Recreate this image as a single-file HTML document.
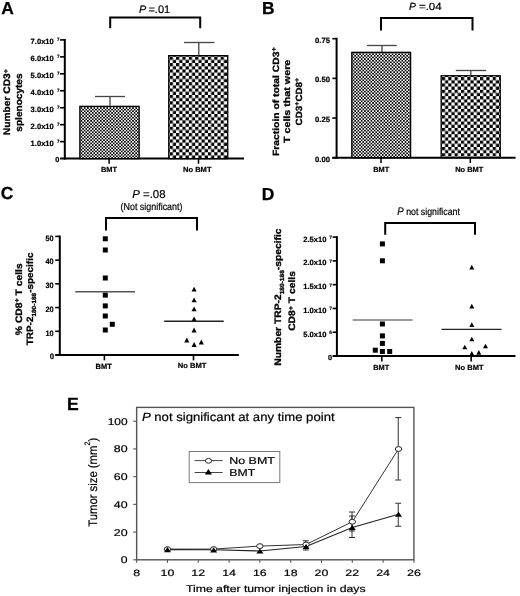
<!DOCTYPE html>
<html><head><meta charset="utf-8"><style>
html,body{margin:0;padding:0;background:#fff;width:520px;height:596px;overflow:hidden;font-family:"Liberation Sans", sans-serif;}
</style></head><body>
<svg width="520" height="596" viewBox="0 0 520 596" text-rendering="geometricPrecision" style="display:block;font-family:&quot;Liberation Sans&quot;, sans-serif;filter:grayscale(1)">
<defs>
<pattern id="fine" patternUnits="userSpaceOnUse" x="80.66" y="107.2" width="3.22" height="3.22">
<rect width="3.22" height="3.22" fill="#fff"/><rect width="1.61" height="1.61" fill="#000"/><rect x="1.61" y="1.61" width="1.61" height="1.61" fill="#000"/>
</pattern>
<pattern id="fineB" patternUnits="userSpaceOnUse" x="352.7" y="53.4" width="3.25" height="3.25">
<rect width="3.25" height="3.25" fill="#fff"/><rect width="1.625" height="1.625" fill="#000"/><rect x="1.625" y="1.625" width="1.625" height="1.625" fill="#000"/>
</pattern>
<pattern id="coarse" patternUnits="userSpaceOnUse" x="169.7" y="56.7" width="6.37" height="6.37">
<rect width="6.37" height="6.37" fill="#fff"/><rect width="3.185" height="3.185" fill="#000"/><rect x="3.185" y="3.185" width="3.185" height="3.185" fill="#000"/>
</pattern>
<pattern id="coarseB" patternUnits="userSpaceOnUse" x="441.9" y="77.1" width="6.35" height="6.35">
<rect width="6.35" height="6.35" fill="#fff"/><rect width="3.175" height="3.175" fill="#000"/><rect x="3.175" y="3.175" width="3.175" height="3.175" fill="#000"/>
</pattern>
</defs>
<rect width="520" height="596" fill="#fff"/>
<text x="1.30" y="13.70" font-size="17.4" font-weight="bold" font-style="normal" text-anchor="start" fill="#000" stroke="#000" stroke-width="0.3">A</text>
<text x="138.90" y="13.20" font-size="10.8" font-weight="normal" font-style="italic" text-anchor="start" fill="#000" stroke="#000" stroke-width="0.2">P</text>
<text x="148.40" y="13.20" font-size="10.8" font-weight="normal" font-style="normal" text-anchor="start" fill="#000" textLength="21.80" lengthAdjust="spacingAndGlyphs" stroke="#000" stroke-width="0.2">=.01</text>
<path d="M110.2,28.3 V17.4 H200.2 V28.3" stroke="#000" stroke-width="2" fill="none"/>
<line x1="64.80" y1="39.00" x2="64.80" y2="159.60" stroke="#000" stroke-width="2"/>
<line x1="60.00" y1="158.60" x2="244.00" y2="158.60" stroke="#000" stroke-width="2"/>
<line x1="60.00" y1="141.64" x2="64.80" y2="141.64" stroke="#000" stroke-width="1.6"/>
<text x="30.60" y="145.74" font-size="7.6" font-weight="bold" font-style="normal" text-anchor="start" fill="#000" textLength="23.20" lengthAdjust="spacingAndGlyphs" stroke="#000" stroke-width="0.2">1.0x10</text>
<text x="56.90" y="143.04" font-size="4.6" font-weight="bold" font-style="normal" text-anchor="start" fill="#000" stroke="#000" stroke-width="0.15">7</text>
<line x1="60.00" y1="124.69" x2="64.80" y2="124.69" stroke="#000" stroke-width="1.6"/>
<text x="30.60" y="128.79" font-size="7.6" font-weight="bold" font-style="normal" text-anchor="start" fill="#000" textLength="23.20" lengthAdjust="spacingAndGlyphs" stroke="#000" stroke-width="0.2">2.0x10</text>
<text x="56.90" y="126.09" font-size="4.6" font-weight="bold" font-style="normal" text-anchor="start" fill="#000" stroke="#000" stroke-width="0.15">7</text>
<line x1="60.00" y1="107.73" x2="64.80" y2="107.73" stroke="#000" stroke-width="1.6"/>
<text x="30.60" y="111.83" font-size="7.6" font-weight="bold" font-style="normal" text-anchor="start" fill="#000" textLength="23.20" lengthAdjust="spacingAndGlyphs" stroke="#000" stroke-width="0.2">3.0x10</text>
<text x="56.90" y="109.13" font-size="4.6" font-weight="bold" font-style="normal" text-anchor="start" fill="#000" stroke="#000" stroke-width="0.15">7</text>
<line x1="60.00" y1="90.77" x2="64.80" y2="90.77" stroke="#000" stroke-width="1.6"/>
<text x="30.60" y="94.87" font-size="7.6" font-weight="bold" font-style="normal" text-anchor="start" fill="#000" textLength="23.20" lengthAdjust="spacingAndGlyphs" stroke="#000" stroke-width="0.2">4.0x10</text>
<text x="56.90" y="92.17" font-size="4.6" font-weight="bold" font-style="normal" text-anchor="start" fill="#000" stroke="#000" stroke-width="0.15">7</text>
<line x1="60.00" y1="73.81" x2="64.80" y2="73.81" stroke="#000" stroke-width="1.6"/>
<text x="30.60" y="77.91" font-size="7.6" font-weight="bold" font-style="normal" text-anchor="start" fill="#000" textLength="23.20" lengthAdjust="spacingAndGlyphs" stroke="#000" stroke-width="0.2">5.0x10</text>
<text x="56.90" y="75.21" font-size="4.6" font-weight="bold" font-style="normal" text-anchor="start" fill="#000" stroke="#000" stroke-width="0.15">7</text>
<line x1="60.00" y1="56.86" x2="64.80" y2="56.86" stroke="#000" stroke-width="1.6"/>
<text x="30.60" y="60.96" font-size="7.6" font-weight="bold" font-style="normal" text-anchor="start" fill="#000" textLength="23.20" lengthAdjust="spacingAndGlyphs" stroke="#000" stroke-width="0.2">6.0x10</text>
<text x="56.90" y="58.26" font-size="4.6" font-weight="bold" font-style="normal" text-anchor="start" fill="#000" stroke="#000" stroke-width="0.15">7</text>
<line x1="60.00" y1="39.90" x2="64.80" y2="39.90" stroke="#000" stroke-width="1.6"/>
<text x="30.60" y="44.00" font-size="7.6" font-weight="bold" font-style="normal" text-anchor="start" fill="#000" textLength="23.20" lengthAdjust="spacingAndGlyphs" stroke="#000" stroke-width="0.2">7.0x10</text>
<text x="56.90" y="41.30" font-size="4.6" font-weight="bold" font-style="normal" text-anchor="start" fill="#000" stroke="#000" stroke-width="0.15">7</text>
<text x="55.20" y="162.20" font-size="7.3" font-weight="bold" font-style="normal" text-anchor="start" fill="#000" stroke="#000" stroke-width="0.2">0</text>
<rect x="79.85" y="106.35" width="59.3" height="52.25" fill="url(#fine)" stroke="#000" stroke-width="1.3"/>
<rect x="168.75" y="55.65" width="59.0" height="102.95" fill="url(#coarse)" stroke="#000" stroke-width="1.3"/>
<line x1="110.00" y1="96.50" x2="110.00" y2="105.80" stroke="#444" stroke-width="1.3"/>
<line x1="95.00" y1="96.50" x2="125.00" y2="96.50" stroke="#444" stroke-width="1.3"/>
<line x1="198.80" y1="42.50" x2="198.80" y2="55.00" stroke="#444" stroke-width="1.3"/>
<line x1="184.00" y1="42.50" x2="214.40" y2="42.50" stroke="#444" stroke-width="1.3"/>
<line x1="109.10" y1="158.60" x2="109.10" y2="163.80" stroke="#000" stroke-width="1.5"/>
<line x1="198.50" y1="158.60" x2="198.50" y2="163.80" stroke="#000" stroke-width="1.5"/>
<text x="101.00" y="172.30" font-size="7.4" font-weight="bold" font-style="normal" text-anchor="start" fill="#000" textLength="16.00" lengthAdjust="spacingAndGlyphs" stroke="#000" stroke-width="0.2">BMT</text>
<text x="183.00" y="172.10" font-size="7.4" font-weight="bold" font-style="normal" text-anchor="start" fill="#000" textLength="28.50" lengthAdjust="spacingAndGlyphs" stroke="#000" stroke-width="0.2">No BMT</text>
<g transform="translate(10.20,102.15) scale(1.0,1) rotate(-90)"><text x="-33.00" y="0" font-size="9.5" font-weight="bold" fill="#000" textLength="66.00" lengthAdjust="spacingAndGlyphs" stroke="#000" stroke-width="0.3">Number CD3<tspan font-size="6.5" dy="-2.5">+</tspan></text></g>
<g transform="translate(22.20,102.55) scale(1.0,1) rotate(-90)"><text x="-29.10" y="0" font-size="9.5" font-weight="bold" fill="#000" textLength="58.20" lengthAdjust="spacingAndGlyphs" stroke="#000" stroke-width="0.3">splenocytes</text></g>
<text x="262.00" y="13.50" font-size="17.4" font-weight="bold" font-style="normal" text-anchor="start" fill="#000" stroke="#000" stroke-width="0.3">B</text>
<text x="408.90" y="9.80" font-size="10.4" font-weight="normal" font-style="italic" text-anchor="start" fill="#000" stroke="#000" stroke-width="0.2">P</text>
<text x="418.90" y="9.80" font-size="10.4" font-weight="normal" font-style="normal" text-anchor="start" fill="#000" textLength="22.80" lengthAdjust="spacingAndGlyphs" stroke="#000" stroke-width="0.2">=.04</text>
<path d="M381,30.5 V18 H472.5 V30.5" stroke="#000" stroke-width="2" fill="none"/>
<line x1="336.60" y1="37.80" x2="336.60" y2="158.70" stroke="#000" stroke-width="2"/>
<line x1="332.30" y1="157.70" x2="515.60" y2="157.70" stroke="#000" stroke-width="2"/>
<line x1="332.30" y1="157.70" x2="336.60" y2="157.70" stroke="#000" stroke-width="1.6"/>
<text x="315.00" y="161.80" font-size="7.6" font-weight="bold" font-style="normal" text-anchor="start" fill="#000" textLength="15.00" lengthAdjust="spacingAndGlyphs" stroke="#000" stroke-width="0.2">0.00</text>
<line x1="332.30" y1="118.03" x2="336.60" y2="118.03" stroke="#000" stroke-width="1.6"/>
<text x="315.00" y="122.13" font-size="7.6" font-weight="bold" font-style="normal" text-anchor="start" fill="#000" textLength="15.00" lengthAdjust="spacingAndGlyphs" stroke="#000" stroke-width="0.2">0.25</text>
<line x1="332.30" y1="78.37" x2="336.60" y2="78.37" stroke="#000" stroke-width="1.6"/>
<text x="315.00" y="82.47" font-size="7.6" font-weight="bold" font-style="normal" text-anchor="start" fill="#000" textLength="15.00" lengthAdjust="spacingAndGlyphs" stroke="#000" stroke-width="0.2">0.50</text>
<line x1="332.30" y1="38.70" x2="336.60" y2="38.70" stroke="#000" stroke-width="1.6"/>
<text x="315.00" y="42.80" font-size="7.6" font-weight="bold" font-style="normal" text-anchor="start" fill="#000" textLength="15.00" lengthAdjust="spacingAndGlyphs" stroke="#000" stroke-width="0.2">0.75</text>
<rect x="351.8" y="52.35" width="58.8" height="105.35" fill="url(#fineB)" stroke="#000" stroke-width="1.3"/>
<rect x="441.15" y="75.75" width="59.1" height="81.95" fill="url(#coarseB)" stroke="#000" stroke-width="1.3"/>
<line x1="382.00" y1="45.50" x2="382.00" y2="52.00" stroke="#444" stroke-width="1.3"/>
<line x1="367.00" y1="45.50" x2="396.80" y2="45.50" stroke="#444" stroke-width="1.3"/>
<line x1="470.90" y1="70.50" x2="470.90" y2="75.50" stroke="#444" stroke-width="1.3"/>
<line x1="455.80" y1="70.50" x2="486.00" y2="70.50" stroke="#444" stroke-width="1.3"/>
<line x1="381.00" y1="157.70" x2="381.00" y2="163.00" stroke="#000" stroke-width="1.5"/>
<line x1="470.30" y1="157.70" x2="470.30" y2="163.00" stroke="#000" stroke-width="1.5"/>
<text x="373.20" y="171.80" font-size="7.4" font-weight="bold" font-style="normal" text-anchor="start" fill="#000" textLength="16.00" lengthAdjust="spacingAndGlyphs" stroke="#000" stroke-width="0.2">BMT</text>
<text x="455.20" y="171.70" font-size="7.4" font-weight="bold" font-style="normal" text-anchor="start" fill="#000" textLength="28.20" lengthAdjust="spacingAndGlyphs" stroke="#000" stroke-width="0.2">No BMT</text>
<g transform="translate(278.50,101.60) scale(1.0,1) rotate(-90)"><text x="-54.45" y="0" font-size="9.0" font-weight="bold" fill="#000" textLength="108.90" lengthAdjust="spacingAndGlyphs" stroke="#000" stroke-width="0.3">Fractioin of total CD3<tspan font-size="6.5" dy="-2.7">+</tspan></text></g>
<g transform="translate(290.20,101.40) scale(1.0,1) rotate(-90)"><text x="-41.65" y="0" font-size="9.0" font-weight="bold" fill="#000" textLength="83.30" lengthAdjust="spacingAndGlyphs" stroke="#000" stroke-width="0.3">T cells that were</text></g>
<g transform="translate(301.70,101.60) scale(1.0,1) rotate(-90)"><text x="-23.85" y="0" font-size="9.0" font-weight="bold" fill="#000" textLength="47.70" lengthAdjust="spacingAndGlyphs" stroke="#000" stroke-width="0.3">CD3<tspan font-size="6.5" dy="-2.4">+</tspan><tspan dy="2.4">CD8</tspan><tspan font-size="6.5" dy="-2.4">+</tspan></text></g>
<text x="0.80" y="199.40" font-size="17.4" font-weight="bold" font-style="normal" text-anchor="start" fill="#000" stroke="#000" stroke-width="0.3">C</text>
<text x="132.20" y="198.00" font-size="11.4" font-weight="normal" font-style="normal" text-anchor="start" fill="#000" textLength="33.40" lengthAdjust="spacingAndGlyphs" stroke="#000" stroke-width="0.2"><tspan font-style="italic">P</tspan> =.08</text>
<text x="120.50" y="210.10" font-size="10.0" font-weight="normal" font-style="normal" text-anchor="start" fill="#000" textLength="62.00" lengthAdjust="spacingAndGlyphs" stroke="#000" stroke-width="0.2">(Not significant)</text>
<path d="M106,230.5 V218.1 H197 V230.5" stroke="#000" stroke-width="2" fill="none"/>
<line x1="59.80" y1="235.50" x2="59.80" y2="356.00" stroke="#000" stroke-width="2"/>
<line x1="55.40" y1="355.00" x2="238.80" y2="355.00" stroke="#000" stroke-width="2"/>
<line x1="55.20" y1="355.00" x2="59.80" y2="355.00" stroke="#000" stroke-width="1.6"/>
<text x="49.80" y="359.30" font-size="7.8" font-weight="bold" font-style="normal" text-anchor="start" fill="#000" stroke="#000" stroke-width="0.2">0</text>
<line x1="55.20" y1="331.28" x2="59.80" y2="331.28" stroke="#000" stroke-width="1.6"/>
<text x="45.40" y="335.58" font-size="7.8" font-weight="bold" font-style="normal" text-anchor="start" fill="#000" textLength="8.20" lengthAdjust="spacingAndGlyphs" stroke="#000" stroke-width="0.2">10</text>
<line x1="55.20" y1="307.56" x2="59.80" y2="307.56" stroke="#000" stroke-width="1.6"/>
<text x="45.40" y="311.86" font-size="7.8" font-weight="bold" font-style="normal" text-anchor="start" fill="#000" textLength="8.20" lengthAdjust="spacingAndGlyphs" stroke="#000" stroke-width="0.2">20</text>
<line x1="55.20" y1="283.84" x2="59.80" y2="283.84" stroke="#000" stroke-width="1.6"/>
<text x="45.40" y="288.14" font-size="7.8" font-weight="bold" font-style="normal" text-anchor="start" fill="#000" textLength="8.20" lengthAdjust="spacingAndGlyphs" stroke="#000" stroke-width="0.2">30</text>
<line x1="55.20" y1="260.12" x2="59.80" y2="260.12" stroke="#000" stroke-width="1.6"/>
<text x="45.40" y="264.42" font-size="7.8" font-weight="bold" font-style="normal" text-anchor="start" fill="#000" textLength="8.20" lengthAdjust="spacingAndGlyphs" stroke="#000" stroke-width="0.2">40</text>
<line x1="55.20" y1="236.40" x2="59.80" y2="236.40" stroke="#000" stroke-width="1.6"/>
<text x="45.40" y="240.70" font-size="7.8" font-weight="bold" font-style="normal" text-anchor="start" fill="#000" textLength="8.20" lengthAdjust="spacingAndGlyphs" stroke="#000" stroke-width="0.2">50</text>
<line x1="104.40" y1="355.00" x2="104.40" y2="360.40" stroke="#000" stroke-width="1.6"/>
<line x1="193.50" y1="355.00" x2="193.50" y2="360.40" stroke="#000" stroke-width="1.6"/>
<text x="95.60" y="368.60" font-size="7.5" font-weight="bold" font-style="normal" text-anchor="start" fill="#000" textLength="16.20" lengthAdjust="spacingAndGlyphs" stroke="#000" stroke-width="0.2">BMT</text>
<text x="177.80" y="368.30" font-size="7.4" font-weight="bold" font-style="normal" text-anchor="start" fill="#000" textLength="28.70" lengthAdjust="spacingAndGlyphs" stroke="#000" stroke-width="0.2">No BMT</text>
<rect x="102.80" y="236.30" width="5" height="5" fill="#000"/>
<rect x="102.80" y="247.50" width="5" height="5" fill="#000"/>
<rect x="102.80" y="275.50" width="5" height="5" fill="#000"/>
<rect x="102.80" y="292.60" width="5" height="5" fill="#000"/>
<rect x="102.80" y="303.40" width="5" height="5" fill="#000"/>
<rect x="102.80" y="313.50" width="5" height="5" fill="#000"/>
<rect x="102.80" y="327.50" width="5" height="5" fill="#000"/>
<rect x="109.80" y="321.80" width="5" height="5" fill="#000"/>
<path d="M191.55,291.60 L194.10,286.80 L196.65,291.60 Z" fill="#000"/>
<path d="M191.55,302.20 L194.10,297.40 L196.65,302.20 Z" fill="#000"/>
<path d="M191.55,311.20 L194.10,306.40 L196.65,311.20 Z" fill="#000"/>
<path d="M191.55,321.20 L194.10,316.40 L196.65,321.20 Z" fill="#000"/>
<path d="M191.55,332.40 L194.10,327.60 L196.65,332.40 Z" fill="#000"/>
<path d="M184.25,342.40 L186.80,337.60 L189.35,342.40 Z" fill="#000"/>
<path d="M191.55,346.90 L194.10,342.10 L196.65,346.90 Z" fill="#000"/>
<path d="M198.75,344.40 L201.30,339.60 L203.85,344.40 Z" fill="#000"/>
<line x1="75.20" y1="291.80" x2="135.00" y2="291.80" stroke="#555" stroke-width="1.4"/>
<line x1="164.20" y1="321.20" x2="223.70" y2="321.20" stroke="#222" stroke-width="1.4"/>
<g transform="translate(21.70,299.25) scale(1.0,1) rotate(-90)"><text x="-35.90" y="0" font-size="9.4" font-weight="bold" fill="#000" textLength="71.80" lengthAdjust="spacingAndGlyphs" stroke="#000" stroke-width="0.3">% CD8<tspan font-size="6.5" dy="-2.5">+</tspan><tspan dy="2.5"> T cells</tspan></text></g>
<g transform="translate(33.00,298.90) scale(1.0,1) rotate(-90)"><text x="-46.35" y="0" font-size="9.2" font-weight="bold" fill="#000" textLength="92.70" lengthAdjust="spacingAndGlyphs" stroke="#000" stroke-width="0.3">TRP-2<tspan font-size="6" dy="2.5">180-188</tspan><tspan dy="-2.5">-specific</tspan></text></g>
<text x="261.80" y="199.70" font-size="17.4" font-weight="bold" font-style="normal" text-anchor="start" fill="#000" stroke="#000" stroke-width="0.3">D</text>
<text x="397.30" y="215.20" font-size="10.0" font-weight="normal" font-style="normal" text-anchor="start" fill="#000" textLength="62.60" lengthAdjust="spacingAndGlyphs" stroke="#000" stroke-width="0.2"><tspan font-style="italic" font-size="11">P</tspan> not significant</text>
<path d="M385.2,234.8 V223.1 H475 V234.8" stroke="#000" stroke-width="2" fill="none"/>
<line x1="336.90" y1="236.20" x2="336.90" y2="357.00" stroke="#000" stroke-width="2"/>
<line x1="332.80" y1="356.00" x2="515.50" y2="356.00" stroke="#000" stroke-width="2"/>
<line x1="332.60" y1="356.00" x2="336.90" y2="356.00" stroke="#000" stroke-width="1.6"/>
<text x="327.90" y="360.10" font-size="7.3" font-weight="bold" font-style="normal" text-anchor="start" fill="#000" stroke="#000" stroke-width="0.2">0</text>
<line x1="332.60" y1="332.22" x2="336.90" y2="332.22" stroke="#000" stroke-width="1.6"/>
<text x="303.20" y="336.62" font-size="7.6" font-weight="bold" font-style="normal" text-anchor="start" fill="#000" textLength="23.20" lengthAdjust="spacingAndGlyphs" stroke="#000" stroke-width="0.2">5.0x10</text>
<text x="329.20" y="334.12" font-size="4.9" font-weight="bold" font-style="normal" text-anchor="start" fill="#000" stroke="#000" stroke-width="0.15">6</text>
<line x1="332.60" y1="308.44" x2="336.90" y2="308.44" stroke="#000" stroke-width="1.6"/>
<text x="303.20" y="312.84" font-size="7.6" font-weight="bold" font-style="normal" text-anchor="start" fill="#000" textLength="23.20" lengthAdjust="spacingAndGlyphs" stroke="#000" stroke-width="0.2">1.0x10</text>
<text x="329.20" y="310.34" font-size="4.9" font-weight="bold" font-style="normal" text-anchor="start" fill="#000" stroke="#000" stroke-width="0.15">7</text>
<line x1="332.60" y1="284.66" x2="336.90" y2="284.66" stroke="#000" stroke-width="1.6"/>
<text x="303.20" y="289.06" font-size="7.6" font-weight="bold" font-style="normal" text-anchor="start" fill="#000" textLength="23.20" lengthAdjust="spacingAndGlyphs" stroke="#000" stroke-width="0.2">1.5x10</text>
<text x="329.20" y="286.56" font-size="4.9" font-weight="bold" font-style="normal" text-anchor="start" fill="#000" stroke="#000" stroke-width="0.15">7</text>
<line x1="332.60" y1="260.88" x2="336.90" y2="260.88" stroke="#000" stroke-width="1.6"/>
<text x="303.20" y="265.28" font-size="7.6" font-weight="bold" font-style="normal" text-anchor="start" fill="#000" textLength="23.20" lengthAdjust="spacingAndGlyphs" stroke="#000" stroke-width="0.2">2.0x10</text>
<text x="329.20" y="262.78" font-size="4.9" font-weight="bold" font-style="normal" text-anchor="start" fill="#000" stroke="#000" stroke-width="0.15">7</text>
<line x1="332.60" y1="237.10" x2="336.90" y2="237.10" stroke="#000" stroke-width="1.6"/>
<text x="303.20" y="241.50" font-size="7.6" font-weight="bold" font-style="normal" text-anchor="start" fill="#000" textLength="23.20" lengthAdjust="spacingAndGlyphs" stroke="#000" stroke-width="0.2">2.5x10</text>
<text x="329.20" y="239.00" font-size="4.9" font-weight="bold" font-style="normal" text-anchor="start" fill="#000" stroke="#000" stroke-width="0.15">7</text>
<line x1="381.80" y1="356.00" x2="381.80" y2="361.50" stroke="#000" stroke-width="1.6"/>
<line x1="471.20" y1="356.00" x2="471.20" y2="361.50" stroke="#000" stroke-width="1.6"/>
<text x="373.30" y="370.00" font-size="7.4" font-weight="bold" font-style="normal" text-anchor="start" fill="#000" textLength="15.90" lengthAdjust="spacingAndGlyphs" stroke="#000" stroke-width="0.2">BMT</text>
<text x="455.00" y="370.00" font-size="7.4" font-weight="bold" font-style="normal" text-anchor="start" fill="#000" textLength="28.60" lengthAdjust="spacingAndGlyphs" stroke="#000" stroke-width="0.2">No BMT</text>
<rect x="379.90" y="241.40" width="5" height="5" fill="#000"/>
<rect x="379.90" y="258.30" width="5" height="5" fill="#000"/>
<rect x="379.90" y="321.50" width="5" height="5" fill="#000"/>
<rect x="379.90" y="333.40" width="5" height="5" fill="#000"/>
<rect x="379.90" y="340.90" width="5" height="5" fill="#000"/>
<rect x="379.90" y="349.00" width="5" height="5" fill="#000"/>
<rect x="372.80" y="347.70" width="5" height="5" fill="#000"/>
<rect x="387.20" y="349.00" width="5" height="5" fill="#000"/>
<path d="M469.30,269.45 L471.80,264.75 L474.30,269.45 Z" fill="#000"/>
<path d="M469.30,308.45 L471.80,303.75 L474.30,308.45 Z" fill="#000"/>
<path d="M469.30,326.95 L471.80,322.25 L474.30,326.95 Z" fill="#000"/>
<path d="M469.30,341.35 L471.80,336.65 L474.30,341.35 Z" fill="#000"/>
<path d="M462.30,349.35 L464.80,344.65 L467.30,349.35 Z" fill="#000"/>
<path d="M483.00,348.35 L485.50,343.65 L488.00,348.35 Z" fill="#000"/>
<path d="M476.30,354.75 L478.80,350.05 L481.30,354.75 Z" fill="#000"/>
<path d="M469.30,355.65 L471.80,350.95 L474.30,355.65 Z" fill="#000"/>
<line x1="352.70" y1="320.00" x2="412.60" y2="320.00" stroke="#777" stroke-width="1.4"/>
<line x1="441.50" y1="329.40" x2="501.50" y2="329.40" stroke="#222" stroke-width="1.3"/>
<g transform="translate(281.30,297.10) scale(1.0,1) rotate(-90)"><text x="-68.65" y="0" font-size="9.4" font-weight="bold" fill="#000" textLength="137.30" lengthAdjust="spacingAndGlyphs" stroke="#000" stroke-width="0.3">Number  TRP-2<tspan font-size="6" dy="2.5">180-188</tspan><tspan dy="-2.5">-specific</tspan></text></g>
<g transform="translate(295.00,300.95) scale(1.0,1) rotate(-90)"><text x="-29.90" y="0" font-size="9.4" font-weight="bold" fill="#000" textLength="59.80" lengthAdjust="spacingAndGlyphs" stroke="#000" stroke-width="0.3">CD8<tspan font-size="6.5" dy="-2.5">+</tspan><tspan dy="2.5"> T cells</tspan></text></g>
<text x="66.90" y="409.60" font-size="17.6" font-weight="bold" font-style="normal" text-anchor="start" fill="#000" stroke="#000" stroke-width="0.3">E</text>
<rect x="136.65" y="407.4" width="277.25" height="152.40" fill="none" stroke="#555" stroke-width="1.4"/>
<line x1="133.20" y1="559.80" x2="136.65" y2="559.80" stroke="#555" stroke-width="1.1"/>
<text x="120.80" y="563.30" font-size="9.8" font-weight="normal" font-style="normal" text-anchor="start" fill="#000" textLength="6.80" lengthAdjust="spacingAndGlyphs" stroke="#000" stroke-width="0.2">0</text>
<line x1="133.20" y1="532.08" x2="136.65" y2="532.08" stroke="#555" stroke-width="1.1"/>
<text x="113.80" y="535.58" font-size="9.8" font-weight="normal" font-style="normal" text-anchor="start" fill="#000" textLength="13.80" lengthAdjust="spacingAndGlyphs" stroke="#000" stroke-width="0.2">20</text>
<line x1="133.20" y1="504.36" x2="136.65" y2="504.36" stroke="#555" stroke-width="1.1"/>
<text x="113.80" y="507.86" font-size="9.8" font-weight="normal" font-style="normal" text-anchor="start" fill="#000" textLength="13.80" lengthAdjust="spacingAndGlyphs" stroke="#000" stroke-width="0.2">40</text>
<line x1="133.20" y1="476.64" x2="136.65" y2="476.64" stroke="#555" stroke-width="1.1"/>
<text x="113.80" y="480.14" font-size="9.8" font-weight="normal" font-style="normal" text-anchor="start" fill="#000" textLength="13.80" lengthAdjust="spacingAndGlyphs" stroke="#000" stroke-width="0.2">60</text>
<line x1="133.20" y1="448.92" x2="136.65" y2="448.92" stroke="#555" stroke-width="1.1"/>
<text x="113.80" y="452.42" font-size="9.8" font-weight="normal" font-style="normal" text-anchor="start" fill="#000" textLength="13.80" lengthAdjust="spacingAndGlyphs" stroke="#000" stroke-width="0.2">80</text>
<line x1="133.20" y1="421.20" x2="136.65" y2="421.20" stroke="#555" stroke-width="1.1"/>
<text x="107.70" y="424.70" font-size="9.8" font-weight="normal" font-style="normal" text-anchor="start" fill="#000" textLength="19.90" lengthAdjust="spacingAndGlyphs" stroke="#000" stroke-width="0.2">100</text>
<line x1="136.65" y1="559.80" x2="136.65" y2="562.80" stroke="#555" stroke-width="1.1"/>
<text x="133.20" y="575.80" font-size="9.2" font-weight="normal" font-style="normal" text-anchor="start" fill="#000" textLength="6.90" lengthAdjust="spacingAndGlyphs" stroke="#000" stroke-width="0.2">8</text>
<line x1="167.46" y1="559.80" x2="167.46" y2="562.80" stroke="#555" stroke-width="1.1"/>
<text x="160.56" y="575.80" font-size="9.2" font-weight="normal" font-style="normal" text-anchor="start" fill="#000" textLength="13.80" lengthAdjust="spacingAndGlyphs" stroke="#000" stroke-width="0.2">10</text>
<line x1="198.26" y1="559.80" x2="198.26" y2="562.80" stroke="#555" stroke-width="1.1"/>
<text x="191.36" y="575.80" font-size="9.2" font-weight="normal" font-style="normal" text-anchor="start" fill="#000" textLength="13.80" lengthAdjust="spacingAndGlyphs" stroke="#000" stroke-width="0.2">12</text>
<line x1="229.07" y1="559.80" x2="229.07" y2="562.80" stroke="#555" stroke-width="1.1"/>
<text x="222.17" y="575.80" font-size="9.2" font-weight="normal" font-style="normal" text-anchor="start" fill="#000" textLength="13.80" lengthAdjust="spacingAndGlyphs" stroke="#000" stroke-width="0.2">14</text>
<line x1="259.87" y1="559.80" x2="259.87" y2="562.80" stroke="#555" stroke-width="1.1"/>
<text x="252.97" y="575.80" font-size="9.2" font-weight="normal" font-style="normal" text-anchor="start" fill="#000" textLength="13.80" lengthAdjust="spacingAndGlyphs" stroke="#000" stroke-width="0.2">16</text>
<line x1="290.68" y1="559.80" x2="290.68" y2="562.80" stroke="#555" stroke-width="1.1"/>
<text x="283.78" y="575.80" font-size="9.2" font-weight="normal" font-style="normal" text-anchor="start" fill="#000" textLength="13.80" lengthAdjust="spacingAndGlyphs" stroke="#000" stroke-width="0.2">18</text>
<line x1="321.48" y1="559.80" x2="321.48" y2="562.80" stroke="#555" stroke-width="1.1"/>
<text x="314.58" y="575.80" font-size="9.2" font-weight="normal" font-style="normal" text-anchor="start" fill="#000" textLength="13.80" lengthAdjust="spacingAndGlyphs" stroke="#000" stroke-width="0.2">20</text>
<line x1="352.29" y1="559.80" x2="352.29" y2="562.80" stroke="#555" stroke-width="1.1"/>
<text x="345.39" y="575.80" font-size="9.2" font-weight="normal" font-style="normal" text-anchor="start" fill="#000" textLength="13.80" lengthAdjust="spacingAndGlyphs" stroke="#000" stroke-width="0.2">22</text>
<line x1="383.09" y1="559.80" x2="383.09" y2="562.80" stroke="#555" stroke-width="1.1"/>
<text x="376.19" y="575.80" font-size="9.2" font-weight="normal" font-style="normal" text-anchor="start" fill="#000" textLength="13.80" lengthAdjust="spacingAndGlyphs" stroke="#000" stroke-width="0.2">24</text>
<line x1="413.90" y1="559.80" x2="413.90" y2="562.80" stroke="#555" stroke-width="1.1"/>
<text x="407.00" y="575.80" font-size="9.2" font-weight="normal" font-style="normal" text-anchor="start" fill="#000" textLength="13.80" lengthAdjust="spacingAndGlyphs" stroke="#000" stroke-width="0.2">26</text>
<text x="186.00" y="591.70" font-size="9.8" font-weight="normal" font-style="normal" text-anchor="start" fill="#000" textLength="179.50" lengthAdjust="spacingAndGlyphs" stroke="#000" stroke-width="0.2">Time after tumor injection in days</text>
<text x="141.90" y="420.60" font-size="12.0" font-weight="normal" font-style="normal" text-anchor="start" fill="#000" textLength="192.70" lengthAdjust="spacingAndGlyphs" stroke="#000" stroke-width="0.2"><tspan font-style="italic">P</tspan> not significant at any time point</text>
<g transform="translate(97.30,482.30) scale(1.0,1) rotate(-90)"><text x="-44.50" y="0" font-size="12.3" font-weight="normal" fill="#000" textLength="89.00" lengthAdjust="spacingAndGlyphs" stroke="#000" stroke-width="0.2">Tumor size (mm<tspan font-size="7.8" dy="-7.3">2</tspan><tspan dy="7.3">)</tspan></text></g>
<rect x="189.2" y="451.5" width="90.6" height="31.1" fill="#fff" stroke="#777" stroke-width="1"/>
<line x1="194.60" y1="460.60" x2="222.70" y2="460.60" stroke="#444" stroke-width="1"/>
<ellipse cx="208.5" cy="460.8" rx="3.1" ry="2.4" fill="#fff" stroke="#222" stroke-width="1"/>
<text x="229.30" y="463.80" font-size="10.0" font-weight="normal" font-style="normal" text-anchor="start" fill="#000" textLength="45.50" lengthAdjust="spacingAndGlyphs" stroke="#000" stroke-width="0.2">No BMT</text>
<line x1="194.60" y1="472.50" x2="222.70" y2="472.50" stroke="#444" stroke-width="1"/>
<path d="M204.80,474.40 L208.40,469.00 L212.00,474.40 Z" fill="#000"/>
<text x="229.30" y="475.70" font-size="10.0" font-weight="normal" font-style="normal" text-anchor="start" fill="#000" textLength="25.80" lengthAdjust="spacingAndGlyphs" stroke="#000" stroke-width="0.2">BMT</text>
<line x1="398.25" y1="417.60" x2="398.25" y2="480.00" stroke="#333" stroke-width="1"/>
<line x1="395.25" y1="417.60" x2="401.25" y2="417.60" stroke="#333" stroke-width="1"/>
<line x1="395.25" y1="480.00" x2="401.25" y2="480.00" stroke="#333" stroke-width="1"/>
<line x1="398.25" y1="503.25" x2="398.25" y2="526.25" stroke="#333" stroke-width="1"/>
<line x1="395.25" y1="503.25" x2="401.25" y2="503.25" stroke="#333" stroke-width="1"/>
<line x1="395.25" y1="526.25" x2="401.25" y2="526.25" stroke="#333" stroke-width="1"/>
<line x1="352.00" y1="512.00" x2="352.00" y2="531.00" stroke="#333" stroke-width="1"/>
<line x1="349.00" y1="512.00" x2="355.00" y2="512.00" stroke="#333" stroke-width="1"/>
<line x1="349.00" y1="531.00" x2="355.00" y2="531.00" stroke="#333" stroke-width="1"/>
<line x1="352.00" y1="516.00" x2="352.00" y2="537.50" stroke="#333" stroke-width="1"/>
<line x1="349.00" y1="516.00" x2="355.00" y2="516.00" stroke="#333" stroke-width="1"/>
<line x1="349.00" y1="537.50" x2="355.00" y2="537.50" stroke="#333" stroke-width="1"/>
<line x1="305.75" y1="540.75" x2="305.75" y2="550.00" stroke="#333" stroke-width="1"/>
<line x1="302.75" y1="540.75" x2="308.75" y2="540.75" stroke="#333" stroke-width="1"/>
<line x1="302.75" y1="550.00" x2="308.75" y2="550.00" stroke="#333" stroke-width="1"/>
<polyline points="167.46,549.10 213.66,549.10 259.87,546.10 306.08,544.50 352.29,521.75 398.50,449.00" fill="none" stroke="#333" stroke-width="1"/>
<polyline points="167.46,549.60 213.66,549.80 259.87,551.00 306.08,546.50 352.29,527.50 398.50,514.25" fill="none" stroke="#222" stroke-width="1.1"/>
<ellipse cx="167.46" cy="549.10" rx="3.2" ry="2.4" fill="#fff" stroke="#222" stroke-width="1"/>
<ellipse cx="213.66" cy="549.10" rx="3.2" ry="2.4" fill="#fff" stroke="#222" stroke-width="1"/>
<ellipse cx="259.87" cy="546.10" rx="3.2" ry="2.4" fill="#fff" stroke="#222" stroke-width="1"/>
<ellipse cx="306.08" cy="544.50" rx="3.2" ry="2.4" fill="#fff" stroke="#222" stroke-width="1"/>
<ellipse cx="352.29" cy="521.75" rx="3.2" ry="2.4" fill="#fff" stroke="#222" stroke-width="1"/>
<ellipse cx="398.50" cy="449.00" rx="3.2" ry="2.4" fill="#fff" stroke="#222" stroke-width="1"/>
<path d="M163.96,552.20 L167.46,547.00 L170.96,552.20 Z" fill="#000"/>
<path d="M210.16,552.40 L213.66,547.20 L217.16,552.40 Z" fill="#000"/>
<path d="M256.37,553.60 L259.87,548.40 L263.37,553.60 Z" fill="#000"/>
<path d="M302.58,549.10 L306.08,543.90 L309.58,549.10 Z" fill="#000"/>
<path d="M348.79,530.10 L352.29,524.90 L355.79,530.10 Z" fill="#000"/>
<path d="M395.00,516.85 L398.50,511.65 L402.00,516.85 Z" fill="#000"/>
</svg>
</body></html>
